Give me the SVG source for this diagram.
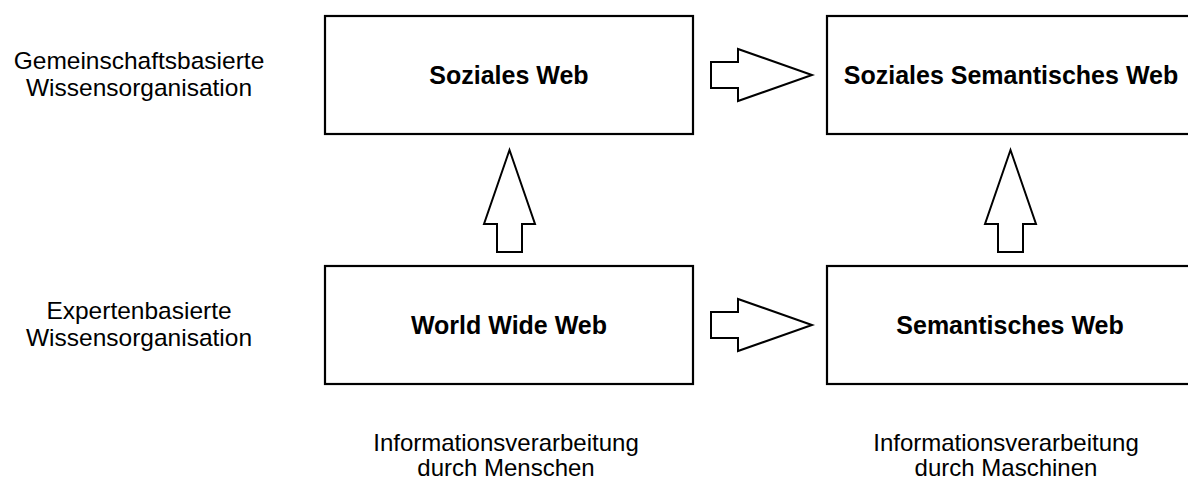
<svg xmlns="http://www.w3.org/2000/svg" width="1188" height="481" viewBox="0 0 1188 481">
  <style>
    .box { fill: #ffffff; stroke: #000000; stroke-width: 2.2; }
    .arrow { fill: #ffffff; stroke: #000000; stroke-width: 2; stroke-linejoin: miter; }
    .title { font-family: "Liberation Sans", Arial, sans-serif; font-weight: bold; font-size: 25px; fill: #000000; text-anchor: middle; }
    .label { font-family: "Liberation Sans", Arial, sans-serif; font-size: 24.5px; fill: #000000; text-anchor: middle; }
    .label-small { font-family: "Liberation Sans", Arial, sans-serif; font-size: 24px; fill: #000000; text-anchor: middle; }
  </style>
  <defs>
    <!-- block arrow pointing right, tip at (0,0) -->
    <polygon id="arrow-right" points="-101,-13 -74,-13 -74,-26 0,0 -74,26 -74,13 -101,13"/>
    <!-- block arrow pointing up, tip at (0,0) -->
    <polygon id="arrow-up" points="0,0 25.5,74 12.5,74 12.5,102 -12.5,102 -12.5,74 -25.5,74"/>
  </defs>
  <rect width="1188" height="481" fill="#ffffff"/>

  <!-- row / column captions -->
  <g id="caption-community">
    <text class="label" x="139" y="69">Gemeinschaftsbasierte</text>
    <text class="label" x="139" y="96">Wissensorganisation</text>
  </g>
  <g id="caption-experts">
    <text class="label" x="139" y="319">Expertenbasierte</text>
    <text class="label" x="139" y="346">Wissensorganisation</text>
  </g>
  <g id="caption-humans">
    <text class="label-small" x="506" y="451">Informationsverarbeitung</text>
    <text class="label-small" x="506" y="476">durch Menschen</text>
  </g>
  <g id="caption-machines">
    <text class="label-small" x="1006" y="451">Informationsverarbeitung</text>
    <text class="label-small" x="1006" y="476">durch Maschinen</text>
  </g>

  <!-- nodes -->
  <g id="node-soziales-web">
    <rect class="box" x="325" y="16" width="368" height="118"/>
    <text class="title" x="509" y="84">Soziales Web</text>
  </g>
  <g id="node-soziales-semantisches-web">
    <rect class="box" x="827" y="16" width="368" height="118"/>
    <text class="title" x="1011" y="84">Soziales Semantisches Web</text>
  </g>
  <g id="node-world-wide-web">
    <rect class="box" x="325" y="266" width="368" height="118"/>
    <text class="title" x="509" y="334">World Wide Web</text>
  </g>
  <g id="node-semantisches-web">
    <rect class="box" x="827" y="266" width="368" height="118"/>
    <text class="title" x="1010" y="334">Semantisches Web</text>
  </g>

  <!-- connectors -->
  <g id="connectors">
    <use href="#arrow-right" class="arrow" x="812" y="75"/>
    <use href="#arrow-right" class="arrow" x="812" y="325"/>
    <use href="#arrow-up" class="arrow" x="509.5" y="150"/>
    <use href="#arrow-up" class="arrow" x="1010.5" y="150"/>
  </g>
</svg>
